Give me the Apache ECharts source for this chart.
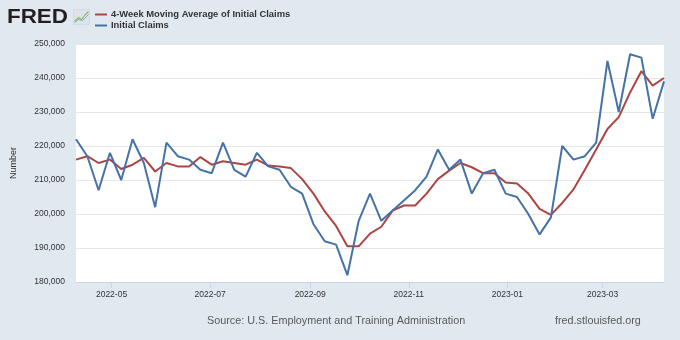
<!DOCTYPE html>
<html><head><meta charset="utf-8">
<script src="https://cdn.jsdelivr.net/npm/echarts@6/dist/echarts.min.js"></script>
<style>html,body{margin:0;padding:0;background:#e1e9f0;}#c{width:680px;height:340px;}</style>
</head><body><div id="c"></div>
<script>
const weeks = ["2022-04-09","2022-04-16","2022-04-23","2022-04-30","2022-05-07","2022-05-14","2022-05-21","2022-05-28",
"2022-06-04","2022-06-11","2022-06-18","2022-06-25","2022-07-02","2022-07-09","2022-07-16","2022-07-23","2022-07-30",
"2022-08-06","2022-08-13","2022-08-20","2022-08-27","2022-09-03","2022-09-10","2022-09-17","2022-09-24",
"2022-10-01","2022-10-08","2022-10-15","2022-10-22","2022-10-29","2022-11-05","2022-11-12","2022-11-19","2022-11-26",
"2022-12-03","2022-12-10","2022-12-17","2022-12-24","2022-12-31","2023-01-07","2023-01-14","2023-01-21","2023-01-28",
"2023-02-04","2023-02-11","2023-02-18","2023-02-25","2023-03-04","2023-03-11","2023-03-18","2023-03-25","2023-04-01","2023-04-08"];
const initialClaims = [222000,217000,207000,218000,210000,222000,215000,202000,
221000,217000,216000,213000,212000,221000,213000,211000,218000,
214000,213000,208000,206000,197000,192000,191000,182000,
198000,206000,198000,201000,204000,207000,211000,219000,213000,
216000,206000,212000,213000,206000,205000,200000,194000,199000,
220000,216000,217000,221000,245000,230000,247000,246000,228000,239000];
const movingAvg4wk = [216000,217000,215000,216000,213250,214500,216500,212500,
215000,214000,214000,216750,214500,215500,215000,214500,216000,
214250,214000,213500,210250,206000,200750,196500,190500,
190500,194250,196250,201000,202500,202500,206000,210250,212750,
215000,213750,212000,212000,209250,209000,206000,201500,199750,
203250,207250,213000,219000,225000,228500,235750,242000,237750,240000];
const xTickLabels = ["2022-05-01","2022-07-01","2022-09-01","2022-11-01","2023-01-01","2023-03-01"];
const yMin = 180000, yMax = 250000, yStep = 10000;

function ts(s){const p=s.split('-').map(Number);return Date.UTC(p[0],p[1]-1,p[2]);}
const tickTs = xTickLabels.map(ts);
const chart = echarts.init(document.getElementById('c'), null, {renderer:'canvas'});
const fnt = 'Liberation Sans, Arial, sans-serif';
chart.setOption({
  backgroundColor: '#e1e9f0',
  animation: false,
  textStyle: {fontFamily: fnt},
  grid: {left: 76, right: 16, top: 44, bottom: 58, show: true, backgroundColor: '#ffffff', borderWidth: 0,
         containLabel: false, outerBoundsMode: 'none'},
  legend: {
    orient: 'vertical', left: 90, top: 4, itemGap: 0, itemWidth: 12, itemHeight: 2,
    icon: 'rect',
    textStyle: {fontSize: 9.4, fontWeight: 'bold', lineHeight: 11, color: '#333333', fontFamily: fnt, padding: [0,0,0,-1]},
    data: ['4-Week Moving Average of Initial Claims', 'Initial Claims']
  },
  xAxis: {
    type: 'value',
    min: ts(weeks[0]), max: ts(weeks[weeks.length-1]),
    axisLine: {show: true, lineStyle: {color: '#ccd6eb', width: 1}},
    axisTick: {show: true, customValues: tickTs, length: 6, lineStyle: {color: '#ccd6eb'}},
    axisLabel: {customValues: tickTs, fontSize: 8.5, color: '#333333', margin: 8,
      formatter: v => { const d = new Date(v); return d.getUTCFullYear() + '-' + String(d.getUTCMonth()+1).padStart(2,'0'); }},
    splitLine: {show: false}
  },
  yAxis: {
    type: 'value', min: yMin, max: yMax, interval: yStep,
    name: 'Number', nameLocation: 'middle', nameRotate: 90, nameGap: 58,
    nameTextStyle: {fontSize: 9, color: '#333333'},
    axisLine: {show: false}, axisTick: {show: false},
    axisLabel: {fontSize: 8.5, color: '#333333', margin: 11, formatter: v => v.toLocaleString('en-US')},
    splitLine: {lineStyle: {color: '#e6e6e6', width: 1}}
  },
  series: [
    {name: '4-Week Moving Average of Initial Claims', type: 'line', showSymbol: false, symbol: 'none',
     lineStyle: {color: '#aa4643', width: 2}, itemStyle: {color: '#aa4643'},
     data: weeks.map((w,i)=>[ts(w), movingAvg4wk[i]])},
    {name: 'Initial Claims', type: 'line', showSymbol: false, symbol: 'none',
     lineStyle: {color: '#4572a7', width: 2}, itemStyle: {color: '#4572a7'},
     data: weeks.map((w,i)=>[ts(w), initialClaims[i]])}
  ],
  graphic: [
    {type: 'text', x: 7, y: 17, scaleX: 1.12, style: {text: 'FRED', font: 'bold 20px ' + fnt, fill: '#231f20', verticalAlign: 'middle'}},
    {type: 'group', left: 72, top: 9, children: [
      {type: 'rect', shape: {x: 0, y: 0, width: 16, height: 15}, style: {fill: '#dde3e8', stroke: '#c9d1d8', lineWidth: 0.5}},
      {type: 'polyline', shape: {points: [[1,12],[5,8],[8,10],[12,5],[15,2]]}, style: {stroke: '#8fbf5a', lineWidth: 1.2, fill: null}},
      {type: 'polyline', shape: {points: [[1,13],[5,10],[9,11],[13,7],[15,5]]}, style: {stroke: '#7aa6d6', lineWidth: 1, fill: null}}
    ]},
    {type: 'text', x: 207, y: 321, style: {text: 'Source: U.S. Employment and Training Administration', font: '10.8px ' + fnt, fill: '#595959', verticalAlign: 'middle'}},
    {type: 'text', x: 555, y: 321, style: {text: 'fred.stlouisfed.org', font: '10.8px ' + fnt, fill: '#595959', verticalAlign: 'middle'}}
  ]
});
</script></body></html>
